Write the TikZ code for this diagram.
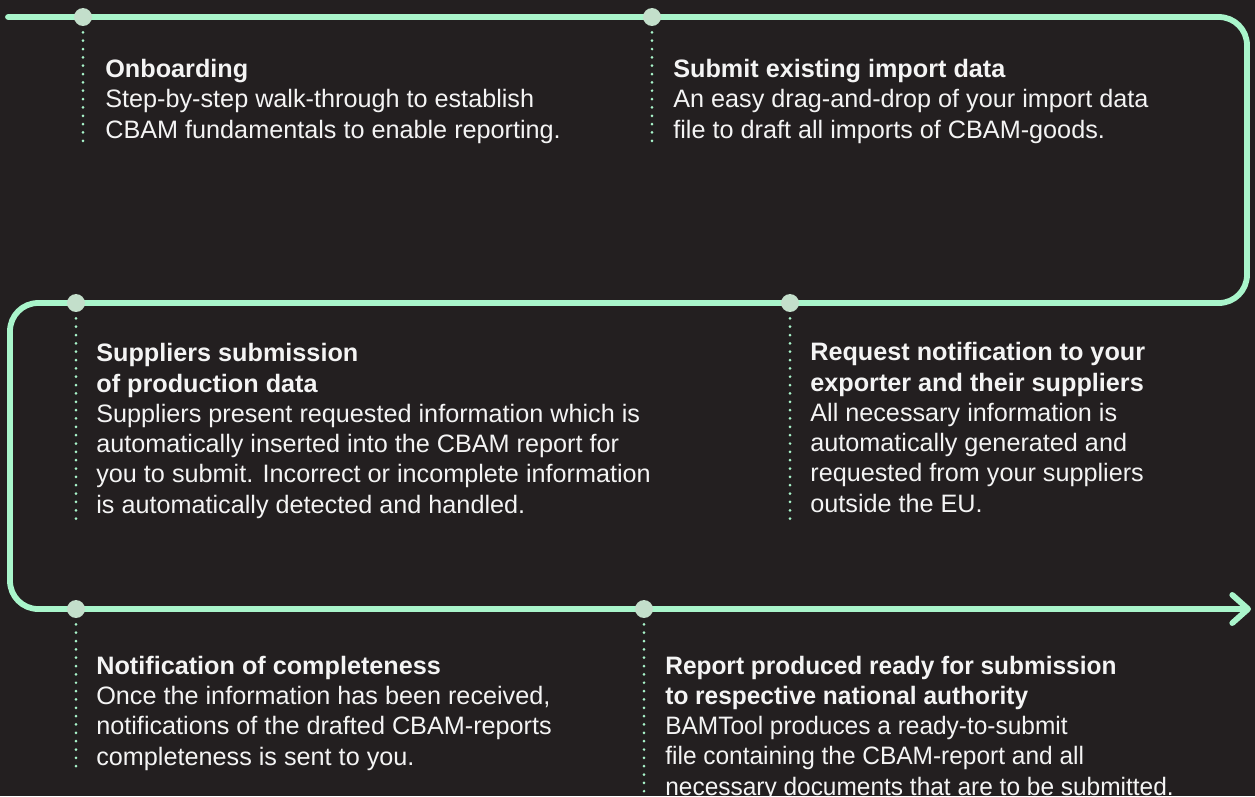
\documentclass[tikz,border=0pt]{standalone}
\usepackage{fontspec}
\setmainfont{Liberation Sans}
\usetikzlibrary{arrows.meta}

\definecolor{bg}{HTML}{231F20}
\definecolor{mint}{HTML}{A9F5CB}
\definecolor{stopfill}{HTML}{C3DFCB}
\definecolor{ink}{HTML}{F4F4F4}

\tikzset{
  flow/.style={draw=mint, line width=3.3pt, line cap=round, line join=round, rounded corners=16pt},
  stop/.style={circle, fill=stopfill, minimum size=10.2pt, inner sep=0pt},
  dots/.style={draw=mint, line width=1.7pt, line cap=round, dash pattern=on 0pt off 4.75pt},
  txt/.style={anchor=base west, align=left, inner sep=0pt, text=ink, font=\fontsize{14.35}{17.2}\selectfont}
}

\begin{document}
\begin{tikzpicture}[x=0.02cm, y=-0.02cm]
  \fill[bg] (0, 0) rectangle (1255, 796);
  \useasboundingbox (0, 0) rectangle (1255, 796);

  % the path
  \coordinate (start) at (8, 17);
  \coordinate (ne) at (1247, 17);
  \coordinate (se) at (1247, 303);
  \coordinate (nw) at (10, 303);
  \coordinate (sw) at (10, 609);
  \coordinate (end) at (1251, 609);
  \draw[flow, -{Straight Barb[length=9pt, width=16pt, round]}]
    (start) -- (ne) -- (se) -- (nw) -- (sw) -- (end);

  % the stops
  \node[stop] (onb) at (83, 17) {};
  \node[stop] (sub) at (652, 17) {};
  \node[stop] (sup) at (76, 303) {};
  \node[stop] (req) at (790, 303) {};
  \node[stop] (ntf) at (76, 609) {};
  \node[stop] (rep) at (644, 609) {};

  \draw[dots] (onb.south) ++(0, 6) -- ++(0, 112);
  \draw[dots] (sub.south) ++(0, 6) -- ++(0, 112);
  \draw[dots] (sup.south) ++(0, 6) -- ++(0, 202);
  \draw[dots] (req.south) ++(0, 6) -- ++(0, 202);
  \draw[dots] (ntf.south) ++(0, 6) -- ++(0, 146);
  \draw[dots] (rep.south) ++(0, 6) -- ++(0, 190);

  % the texts (placed at the baseline of their last line)
  \node[txt] (onbtext) at (105, 138) {\textbf{Onboarding}\\
    Step-by-step walk-through to establish\\
    CBAM fundamentals to enable reporting.};
  \node[txt] (subtext) at (673, 138) {\textbf{Submit existing import data}\\
    An easy drag-and-drop of your import data\\
    file to draft all imports of CBAM-goods.};
  \node[txt] (suptext) at (96, 513) {\textbf{Suppliers submission}\\
    \textbf{of production data}\\
    Suppliers present requested information which is\\
    automatically inserted into the CBAM report for\\
    you to submit. Incorrect or incomplete information\\
    is automatically detected and handled.};
  \node[txt] (reqtext) at (810, 512) {\textbf{Request notification to your}\\
    \textbf{exporter and their suppliers}\\
    All necessary information is\\
    automatically generated and\\
    requested from your suppliers\\
    outside the EU.};
  \node[txt] (ntftext) at (96, 765) {\textbf{Notification of completeness}\\
    Once the information has been received,\\
    notifications of the drafted CBAM-reports\\
    completeness is sent to you.};
  \node[txt, font=\fontsize{14.35}{17.2}\selectfont\addfontfeatures{FakeStretch=0.97}]
    (reptext) at (665, 795) {\textbf{Report produced ready for submission}\\
    \textbf{to respective national authority}\\
    BAMTool produces a ready-to-submit\\
    file containing the CBAM-report and all\\
    necessary documents that are to be submitted.};
\end{tikzpicture}
\end{document}
